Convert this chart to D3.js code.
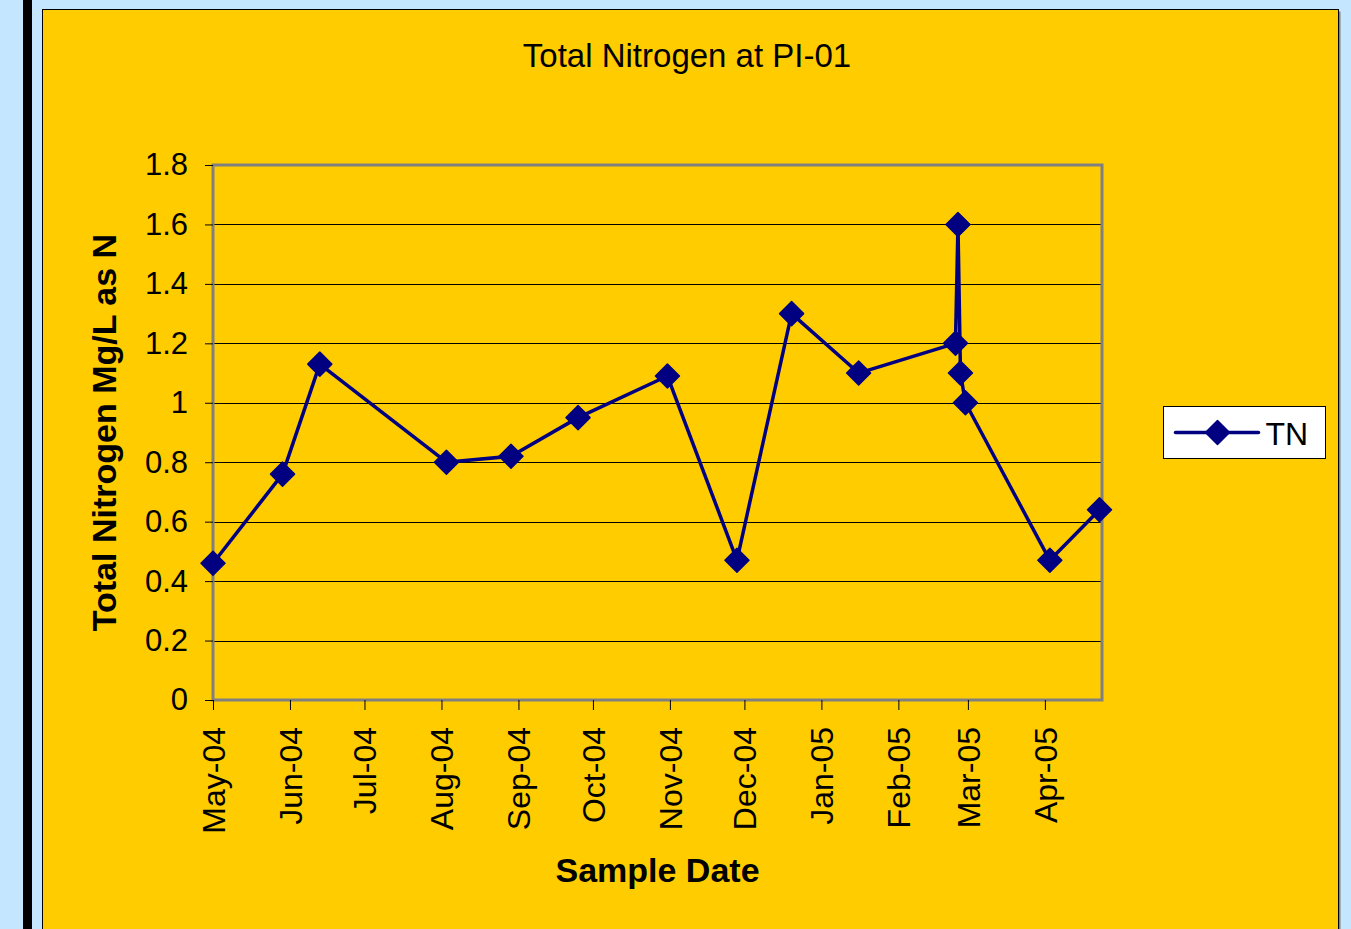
<!DOCTYPE html>
<html>
<head>
<meta charset="utf-8">
<script src="https://cdn.jsdelivr.net/npm/d3@7"></script>
<style>
  html, body { margin: 0; padding: 0; background: #C4E6FF; overflow: hidden; }
  svg { display: block; font-family: "Liberation Sans", Arial, sans-serif; }
</style>
</head>
<body>
<svg id="chart" width="1351" height="929"></svg>
<script>
// sample dates and total nitrogen readings (mg/L as N)
const sampleDates = [
  "2004-05-01", "2004-05-29", "2004-06-13", "2004-08-03", "2004-08-29",
  "2004-09-25", "2004-10-31", "2004-11-28", "2004-12-20", "2005-01-16",
  "2005-02-24", "2005-02-25", "2005-02-26", "2005-02-28", "2005-04-03",
  "2005-04-23"
];
const tnValues = [
  0.46, 0.76, 1.13, 0.80, 0.82,
  0.95, 1.09, 0.47, 1.30, 1.10,
  1.20, 1.60, 1.10, 1.00, 0.47,
  0.64
];
const yTickValues = [0, 0.2, 0.4, 0.6, 0.8, 1, 1.2, 1.4, 1.6, 1.8];
const xDomain = ["2004-05-01", "2005-04-24"];
const seriesName = "TN";

const parse = d3.utcParse("%Y-%m-%d");
const data = sampleDates.map((d, i) => ({ date: parse(d), value: tnValues[i] }));

const svg = d3.select("#chart");
const navy = "#000080";

// page decorations: black stripe and chart area
svg.append("rect").attr("x", 23).attr("y", 0).attr("width", 9).attr("height", 929).attr("fill", "#000");
svg.append("rect").attr("x", 44.5).attr("y", 11.5).attr("width", 1296).attr("height", 940)
  .attr("fill", "#808080");
svg.append("rect").attr("x", 42.5).attr("y", 9.5).attr("width", 1296).attr("height", 940)
  .attr("fill", "#FFCC00").attr("stroke", "#000").attr("stroke-width", 1);

const plot = { left: 213, right: 1102, top: 165, bottom: 700 };

const x = d3.scaleUtc()
  .domain(xDomain.map(parse))
  .range([plot.left, plot.right]);
const y = d3.scaleLinear()
  .domain([0, 1.8])
  .range([plot.bottom, plot.top]);

// gridlines
svg.append("g")
  .selectAll("line")
  .data(yTickValues.filter(v => v > 0 && v < 1.8))
  .enter()
  .append("line")
  .attr("x1", plot.left).attr("x2", plot.right)
  .attr("y1", d => Math.round(y(d)) + 0.5).attr("y2", d => Math.round(y(d)) + 0.5)
  .attr("stroke", "#000").attr("stroke-width", 1);

// plot border
svg.append("rect")
  .attr("x", plot.left).attr("y", plot.top)
  .attr("width", plot.right - plot.left).attr("height", plot.bottom - plot.top)
  .attr("fill", "none").attr("stroke", "#808080").attr("stroke-width", 3);

// y axis
const yAxis = svg.append("g")
  .attr("transform", "translate(" + plot.left + ",0)")
  .call(d3.axisLeft(y).tickValues(yTickValues).tickFormat(d3.format("~g")).tickSize(8).tickPadding(17));
yAxis.select(".domain").remove();
yAxis.selectAll("line").attr("stroke", "#000");
yAxis.selectAll("text").attr("font-size", 31).attr("font-family", "Liberation Sans, Arial, sans-serif").attr("fill", "#000");

// x axis
const xAxis = svg.append("g")
  .attr("transform", "translate(0," + plot.bottom + ")")
  .call(d3.axisBottom(x).ticks(d3.utcMonth.every(1)).tickFormat(d3.utcFormat("%b-%y")).tickSize(10));
xAxis.select(".domain").remove();
xAxis.selectAll("line").attr("stroke", "#000");
xAxis.selectAll("text")
  .attr("font-size", 32)
  .attr("font-family", "Liberation Sans, Arial, sans-serif")
  .attr("fill", "#000")
  .attr("transform", "rotate(-90)")
  .attr("text-anchor", "end")
  .attr("x", -27)
  .attr("y", 0)
  .attr("dy", "0.35em");

// series line
const line = d3.line()
  .x(d => x(d.date))
  .y(d => y(d.value));
svg.append("path")
  .datum(data)
  .attr("fill", "none")
  .attr("stroke", navy)
  .attr("stroke-width", 3.5)
  .attr("stroke-linejoin", "round")
  .attr("d", line);

// diamond markers
const diamond = "M0,-12L12,0L0,12L-12,0Z";
svg.append("g")
  .selectAll("path")
  .data(data)
  .enter()
  .append("path")
  .attr("d", diamond)
  .attr("transform", d => "translate(" + x(d.date) + "," + y(d.value) + ")")
  .attr("fill", navy)
  .attr("stroke", navy)
  .attr("stroke-linejoin", "round")
  .attr("stroke-width", 1.5);

// title
svg.append("text")
  .attr("x", 687).attr("y", 67)
  .attr("text-anchor", "middle")
  .attr("font-size", 33)
  .text("Total Nitrogen at PI-01");

// axis titles
svg.append("text")
  .attr("transform", "translate(116," + ((plot.top + plot.bottom) / 2) + ") rotate(-90)")
  .attr("text-anchor", "middle")
  .attr("font-size", 34)
  .attr("font-weight", "bold")
  .text("Total Nitrogen Mg/L as N");

svg.append("text")
  .attr("x", (plot.left + plot.right) / 2).attr("y", 882)
  .attr("text-anchor", "middle")
  .attr("font-size", 34)
  .attr("font-weight", "bold")
  .text("Sample Date");

// legend
const legend = svg.append("g").attr("transform", "translate(1163.5,406.5)");
legend.append("rect").attr("width", 162).attr("height", 52)
  .attr("fill", "#fff").attr("stroke", "#000").attr("stroke-width", 1);
legend.append("line").attr("x1", 12).attr("x2", 95).attr("y1", 26).attr("y2", 26)
  .attr("stroke", navy).attr("stroke-width", 3.5).attr("stroke-linecap", "round");
legend.append("path").attr("d", diamond).attr("transform", "translate(54,26)")
  .attr("fill", navy).attr("stroke", navy).attr("stroke-width", 1.5).attr("stroke-linejoin", "round");
legend.append("text").attr("x", 102).attr("y", 38)
  .attr("font-size", 32)
  .text(seriesName);
</script>
</body>
</html>
